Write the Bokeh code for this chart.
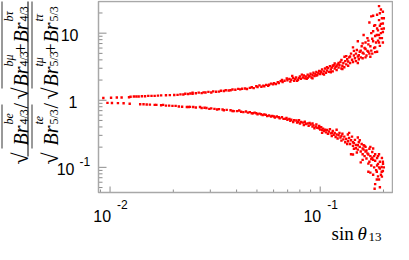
import math
from bokeh.plotting import figure
from bokeh.models import Label, Range1d
from bokeh.embed import file_html
from bokeh.resources import INLINE

# ---------------- data ----------------
upper_x = [0.00929, 0.01011, 0.01077, 0.01135, 0.01231, 0.01252, 0.01298, 0.01334, 0.01368, 0.01417,
           0.01467, 0.01520, 0.01575, 0.01630, 0.01690, 0.01750, 0.01845, 0.01925, 0.02020, 0.02095,
           0.02163, 0.02232, 0.02280, 0.02350, 0.02410, 0.02470, 0.02470,
           0.0256, 0.02642, 0.02728, 0.02786, 0.02846, 0.02938, 0.03031, 0.03096, 0.03196, 0.03298,
           0.03369, 0.03478, 0.03552, 0.03666, 0.03744, 0.03825, 0.03947, 0.04074, 0.04161, 0.04250,
           0.04387, 0.04481, 0.04625, 0.04724, 0.04825, 0.04965, 0.05033, 0.05140, 0.05251, 0.05363,
           0.05419, 0.05535, 0.05654, 0.05713, 0.05834, 0.05959, 0.06023, 0.06152, 0.06284, 0.06349,
           0.06485, 0.06575, 0.06624, 0.06766, 0.06932, 0.06982,
           0.07131, 0.07207, 0.07283, 0.07362, 0.0744, 0.07516, 0.07596, 0.07677, 0.07762, 0.07843,
           0.07926, 0.08011, 0.08096, 0.08180, 0.08268, 0.08356, 0.08445, 0.08535, 0.08626, 0.08717,
           0.08717, 0.08810, 0.08903, 0.08997, 0.09093, 0.0919, 0.0919, 0.09288, 0.09386, 0.09486,
           0.09587, 0.09587, 0.09688, 0.09790, 0.0989, 0.1000, 0.1000, 0.1011, 0.1021, 0.1032,
           0.1042, 0.1042, 0.1054, 0.1065, 0.1077, 0.1077, 0.1088, 0.1100, 0.1112, 0.1123,
           0.1123, 0.1135, 0.1147, 0.1147, 0.1159, 0.1172, 0.1172, 0.1184, 0.1197, 0.1197,
           0.1210, 0.1223, 0.1223, 0.1235, 0.1248, 0.1262, 0.1262, 0.1275, 0.1275, 0.1289,
           0.1302, 0.1305, 0.1316, 0.1330, 0.1330, 0.1344, 0.1358, 0.1358, 0.1373, 0.1387,
           0.1387, 0.1402, 0.1417, 0.1432, 0.1432, 0.1447, 0.1447, 0.1463, 0.1479, 0.1479,
           0.1494, 0.1510, 0.1510, 0.1510, 0.1526, 0.1526, 0.1542, 0.1559, 0.1559, 0.1575,
           0.1592, 0.1592, 0.1592, 0.1609, 0.1609, 0.1626, 0.1643, 0.1643, 0.1643, 0.1660,
           0.1678, 0.1678, 0.1695, 0.1695, 0.1695, 0.1714, 0.1714, 0.1732, 0.1732, 0.1750,
           0.1750, 0.1750, 0.1769, 0.1769, 0.1786, 0.1786, 0.1786, 0.1806, 0.1806, 0.1826,
           0.1826, 0.1826, 0.1826, 0.1845, 0.1859, 0.1865, 0.1865, 0.1865, 0.1884, 0.1884,
           0.1905, 0.1905, 0.1905, 0.1905, 0.1923, 0.1923, 0.1923, 0.1923, 0.1945, 0.1945,
           0.1945, 0.1961, 0.1966, 0.1966, 0.1987, 0.1987, 0.1987, 0.1987, 0.2008, 0.2008]
upper_y = [1.083, 1.090, 1.101, 1.101, 1.111, 1.126, 1.137, 1.137, 1.137, 1.147,
           1.147, 1.162, 1.162, 1.162, 1.173, 1.181, 1.185, 1.192, 1.200, 1.204,
           1.223, 1.219, 1.251, 1.239, 1.263, 1.251, 1.300,
           1.271, 1.300, 1.279, 1.312, 1.304, 1.334, 1.304, 1.355, 1.342, 1.346,
           1.386, 1.377, 1.408, 1.399, 1.408, 1.444, 1.431, 1.477, 1.453, 1.482,
           1.500, 1.468, 1.530, 1.565, 1.515, 1.616, 1.580, 1.668, 1.590, 1.652,
           1.616, 1.695, 1.642, 1.706, 1.767, 1.722, 1.796, 1.750, 1.866, 1.807,
           1.926, 2.001, 1.866, 1.957, 2.107, 1.989,
           2.086, 1.896, 2.021, 2.297, 2.154, 1.957, 2.066, 2.189, 1.957, 2.021,
           2.154, 2.260, 2.086, 2.410, 2.189, 2.334, 2.120, 2.260, 2.086, 2.154,
           2.410, 2.260, 2.297, 2.488, 2.189, 2.371, 2.120, 2.569, 2.297, 2.448,
           2.652, 2.334, 2.371, 2.528, 2.738, 2.448, 2.695, 2.610, 2.873, 2.488,
           2.695, 2.410, 2.967, 2.569, 2.783, 3.112, 3.014, 2.652, 3.214, 2.873,
           2.610, 3.063, 2.695, 3.265, 3.318, 2.967, 3.537, 3.162, 2.828, 3.265,
           3.425, 3.063, 3.594, 3.318, 3.710, 2.967, 4.00, 3.265, 2.92, 3.594,
           3.112, 4.45, 3.831, 3.425, 4.54, 4.084, 3.265, 3.79, 4.354, 3.594,
           4.496, 4.95, 4.019, 6.13, 3.710, 4.642, 5.445, 4.217, 4.95, 3.831,
           5.623, 7.58, 4.496, 3.594, 4.69, 4.084, 5.275, 5.50, 4.354, 6.391,
           4.22, 5.109, 7.034, 4.95, 9.38, 5.995, 5.81, 7.263, 4.354, 4.642,
           8.44, 5.445, 6.813, 7.743, 5.275, 4.95, 14.4, 4.45, 6.391, 17.78,
           5.50, 10.0, 8.254, 4.95, 18.2, 7.58, 10.66, 5.995, 12.92, 5.22,
           13.2, 9.085, 6.13, 7.263, 9.38, 18.8, 11.73, 5.275, 11.0, 7.743,
           25.3, 15.65, 7.263, 9.38, 19.8, 12.92, 8.44, 6.46, 22.5, 10.0,
           13.77, 11.6, 8.44, 16.68, 20.9, 13.9, 10.4, 7.263, 11.73, 16.68]

lower_x = [0.00972, 0.01021, 0.0109, 0.0116, 0.0124, 0.01391, 0.01443, 0.01494, 0.01547, 0.01631,
           0.01661, 0.01750, 0.01788, 0.01845, 0.01911, 0.01981, 0.02051, 0.02124, 0.02202, 0.02320,
           0.02370, 0.02402, 0.02488,
           0.0256, 0.02679, 0.02728, 0.02815, 0.02875, 0.02968, 0.03031, 0.03139, 0.03230, 0.03298,
           0.03430, 0.03478, 0.03589, 0.03744, 0.03825, 0.03877, 0.04018, 0.04117, 0.04205, 0.04308,
           0.04433, 0.04529, 0.04625, 0.04724, 0.04790, 0.04876, 0.04965, 0.05033, 0.0514, 0.05235,
           0.05324, 0.05419, 0.05517, 0.05594, 0.05713, 0.05834, 0.05916, 0.06023, 0.06087, 0.06217,
           0.06349, 0.06416, 0.06575, 0.06694, 0.06818, 0.06911, 0.06982,
           0.07131, 0.07207, 0.07283, 0.0744, 0.07516, 0.07702, 0.07762, 0.07843, 0.07926, 0.08011,
           0.08120, 0.08268, 0.08356, 0.08445, 0.08535, 0.08717, 0.08810, 0.08903, 0.08997, 0.0919,
           0.0919, 0.09288, 0.09386, 0.09515, 0.09587, 0.09688, 0.09863, 0.0989, 0.1000, 0.1011,
           0.1021, 0.1021, 0.1032, 0.1042, 0.1054, 0.1065, 0.1077, 0.1088, 0.1100, 0.1112,
           0.1123, 0.1135, 0.1135, 0.1147, 0.1159, 0.1172, 0.1184, 0.1197, 0.1197, 0.1210,
           0.1223, 0.1235, 0.1248, 0.1262, 0.1262, 0.1275, 0.1289, 0.1302, 0.1316, 0.1330,
           0.1344, 0.1354, 0.1358, 0.1373, 0.1373, 0.1387, 0.1402, 0.1402, 0.1417, 0.1432,
           0.1432, 0.1432, 0.1447, 0.1447, 0.1463, 0.1479, 0.1479, 0.1494, 0.1510, 0.1510,
           0.1510, 0.1526, 0.1542, 0.1542, 0.1559, 0.1559, 0.1575, 0.1592, 0.1592, 0.1592,
           0.1609, 0.1609, 0.1626, 0.1626, 0.1643, 0.1643, 0.1660, 0.1660, 0.1678, 0.1695,
           0.1695, 0.1695, 0.1714, 0.1714, 0.1732, 0.1732, 0.1732, 0.1750, 0.1750, 0.1769,
           0.1769, 0.1786, 0.1786, 0.1786, 0.1815, 0.1806, 0.1806, 0.1826, 0.1826, 0.1826,
           0.1845, 0.1859, 0.1859, 0.1865, 0.1865, 0.1884, 0.1884, 0.1884, 0.1905, 0.1905,
           0.1905, 0.1923, 0.1923, 0.1923, 0.1945, 0.1961, 0.1961, 0.1966, 0.1966, 0.1990,
           0.1987, 0.1987, 0.2008]
lower_y = [0.914, 0.9085, 0.905, 0.900, 0.885, 0.872, 0.872, 0.866, 0.860, 0.852,
           0.852, 0.844, 0.852, 0.833, 0.833, 0.825, 0.825, 0.807, 0.7993, 0.792,
           0.792, 0.797, 0.792,
           0.779, 0.792, 0.767, 0.774, 0.767, 0.743, 0.757, 0.743, 0.7264, 0.738,
           0.7264, 0.710, 0.7195, 0.710, 0.692, 0.688, 0.688, 0.7036, 0.675, 0.666,
           0.681, 0.654, 0.666, 0.639, 0.639, 0.654, 0.639, 0.619, 0.633, 0.619,
           0.5995, 0.613, 0.605, 0.5807, 0.594, 0.5714, 0.586, 0.5714, 0.5534, 0.5714,
           0.557, 0.536, 0.557, 0.5275, 0.5275, 0.5447, 0.511,
           0.5275, 0.4948, 0.511, 0.4746, 0.5027, 0.4995, 0.4642, 0.4746, 0.5027, 0.4496,
           0.4746, 0.4642, 0.4285, 0.4793, 0.4425, 0.4496, 0.4149, 0.4597, 0.4354, 0.4045,
           0.4496, 0.4217, 0.3831, 0.4045, 0.4354, 0.3892, 0.3831, 0.4149, 0.3652, 0.3956,
           0.3265, 0.3594, 0.3771, 0.3482, 0.3628, 0.3318, 0.3594, 0.3162, 0.3425, 0.3711,
           0.3213, 0.3265, 0.2938, 0.3482, 0.3063, 0.3265, 0.2828, 0.3092, 0.3628, 0.2695,
           0.3014, 0.3265, 0.2783, 0.2938, 0.2504, 0.3162, 0.2610, 0.2873, 0.2371, 0.2652,
           0.2224, 0.3092, 0.2448, 0.2738, 0.3265, 0.2224, 0.2528, 0.1565, 0.2873, 0.2371,
           0.2086, 0.1550, 0.2297, 0.1896, 0.2569, 0.2154, 0.1926, 0.1668, 0.2783, 0.2134,
           0.1836, 0.2371, 0.2020, 0.2528, 0.1185, 0.1722, 0.2224, 0.1914, 0.1565, 0.1292,
           0.1836, 0.2134, 0.1468, 0.2086, 0.1722, 0.2020, 0.1355, 0.1778, 0.1615, 0.1550,
           0.0860, 0.1137, 0.1896, 0.1212, 0.0833, 0.1468, 0.2020, 0.1066, 0.1334, 0.1389,
           0.1695, 0.1292, 0.1914, 0.0774, 0.0479, 0.1, 0.1468, 0.1251, 0.1565, 0.0562,
           0.0908, 0.0660, 0.0860, 0.1377, 0.1066, 0.1125, 0.0733, 0.1468, 0.1565, 0.1,
           0.066, 0.0959, 0.0506, 0.1212, 0.0774, 0.1010, 0.0860, 0.1377, 0.0726, 0.1125,
           0.0880, 0.1212, 0.1]

x_major_ticks = [0.01, 0.1]
x_minor_ticks = [0.009, 0.02, 0.03, 0.04, 0.05, 0.06, 0.07, 0.08, 0.09, 0.2]
x_tick_exponents = ["-2", "-1"]
y_major_ticks = [0.1, 1, 10]
y_minor_ticks = [0.05, 0.06, 0.07, 0.08, 0.09, 0.2, 0.3, 0.4, 0.5, 0.6, 0.7, 0.8, 0.9,
                 2, 3, 4, 5, 6, 7, 8, 9, 20]
y_tick_mantissas = ["10", "1", "10"]
y_tick_exponents = ["-1", "", ""]

x_label_parts = ["sin", "\u03b8", "13"]
num_sups = ["be", "b\u03bc", "b\u03c4"]
den_sups = ["te", "t\u03bc", "t\u03c4"]
num_sub = "4/3"
den_sub = "5/3"

# ---------------- layout: the frame covers the whole canvas ----------------
W, H = 393, 244
PL, PR, PT, PB = 98, 392, 1, 192          # plot box, in canvas pixels
XLO, XHI = -2.055, -0.656                  # log10 limits of the plot box
YHI, YLO = 1.472, -1.375
DX = (PR - PL) / (XHI - XLO)
DY = (PB - PT) / (YHI - YLO)
XL0 = XLO - PL / DX
XL1 = XHI + (W - PR) / DX
YT0 = YHI + PT / DY
YB0 = YLO - (H - PB) / DY


def X(px):
    return 10 ** (XL0 + px / DX)


def Y(py):
    return 10 ** (YT0 - py / DY)


def pxx(v):
    return (math.log10(v) - XL0) * DX


def pyy(v):
    return (YT0 - math.log10(v)) * DY


p = figure(width=W, height=H, x_axis_type="log", y_axis_type="log",
           x_range=Range1d(10 ** XL0, 10 ** XL1), y_range=Range1d(10 ** YB0, 10 ** YT0),
           x_axis_location=None, y_axis_location=None,
           output_backend="svg", toolbar_location=None, min_border=0)
p.grid.visible = False
p.outline_line_color = None
p.background_fill_color = "white"
p.border_fill_color = "white"

FRAME = "#a8a8a8"
TICK = "#8c8c8c"

# data
p.scatter(upper_x, upper_y, marker="square", size=2.4, fill_color="#ff0000", line_color=None)
p.scatter(lower_x, lower_y, marker="square", size=2.4, fill_color="#ff0000", line_color=None)

# ticks (pointing inwards)
p.segment(x0=x_major_ticks, y0=[Y(PB)] * 2, x1=x_major_ticks, y1=[Y(PB - 6)] * 2,
          line_color=TICK, line_width=1)
p.segment(x0=x_minor_ticks, y0=[Y(PB)] * len(x_minor_ticks), x1=x_minor_ticks,
          y1=[Y(PB - 3)] * len(x_minor_ticks), line_color=TICK, line_width=1)
p.segment(x0=[X(PL)] * 3, y0=y_major_ticks, x1=[X(PL + 8)] * 3, y1=y_major_ticks,
          line_color=TICK, line_width=1)
p.segment(x0=[X(PL)] * len(y_minor_ticks), y0=y_minor_ticks, x1=[X(PL + 4)] * len(y_minor_ticks),
          y1=y_minor_ticks, line_color=TICK, line_width=1)

# frame
p.quad(left=X(PL), right=X(PR), top=Y(PT), bottom=Y(PB), fill_color=None,
       line_color=FRAME, line_width=1.5)


def lab(text, px, py, size, font="Liberation Sans", style="normal",
        align="left", baseline="alphabetic", angle=0.0):
    p.add_layout(Label(x=X(px), y=Y(py), x_units="data", y_units="data", text=text,
                       text_font=font, text_font_size=f"{size}px", text_font_style=style,
                       text_align=align, text_baseline=baseline, angle=angle,
                       text_color="black"))


def vline(px, py0, py1, w=1.0):
    p.segment(x0=[X(px)], y0=[Y(py0)], x1=[X(px)], y1=[Y(py1)], line_color="black", line_width=w)


# x tick labels
for t, e in zip(x_major_ticks, x_tick_exponents):
    lab("10", pxx(t) + 1, PB + 23, 16, align="right")
    lab(e, pxx(t) + 7, PB + 12, 12)

# y tick labels
y_right = [PL - 24, PL - 21, PL - 20]
for t, m, e, r in zip(y_major_ticks, y_tick_mantissas, y_tick_exponents, y_right):
    lab(m, r, pyy(t) + 2, 16, align="right", baseline="middle")
    if e:
        lab(e, r + 5, pyy(t) - 6, 12)

# x axis title
lab(x_label_parts[0], 331, 233, 19, font="Liberation Serif")
lab(x_label_parts[1], 357, 233, 19, font="Liberation Serif", style="italic")
lab(x_label_parts[2], 368, 236, 13, font="Liberation Serif")

# y axis title (rotated fraction)
A = math.pi / 2
SER = "Liberation Serif"
for col, (sups, sub) in enumerate(((num_sups, num_sub), (den_sups, den_sub))):
    dx = 30 * col
    base, sup_b, sub_b = 20 + dx, 8.5 + dx, 23 + dx
    lab("\u221a", base, 164, 22, font=SER, angle=A)
    lab("Br", base, 145, 20, font=SER, style="italic", angle=A)
    lab(sups[0], sup_b, 124, 12, font=SER, style="italic", angle=A)
    lab(sub, sub_b, 124, 12, font=SER, angle=A)
    lab("/", base, 108, 20, font=SER, angle=A)
    lab("\u221a", base, 99, 22, font=SER, angle=A)
    lab("Br", base, 86, 20, font=SER, style="italic", angle=A)
    lab(sups[1], sup_b, 66, 12, font=SER, style="italic", angle=A)
    lab(sub, sub_b, 66, 12, font=SER, angle=A)
    lab("+", base, 53, 18, font=SER, angle=A)
    lab("Br", base, 42, 20, font=SER, style="italic", angle=A)
    lab(sups[2], sup_b, 21, 12, font=SER, style="italic", angle=A)
    lab(sub, sub_b, 21, 12, font=SER, angle=A)
    vline(1.5 + dx, 104, 148, 0.8)
    vline(1.5 + dx, 1, 88, 0.8)

# fraction bar
vline(27.5, 1, 156, 1.0)

open("out.html", "w").write(file_html(p, INLINE, title="plot"))
